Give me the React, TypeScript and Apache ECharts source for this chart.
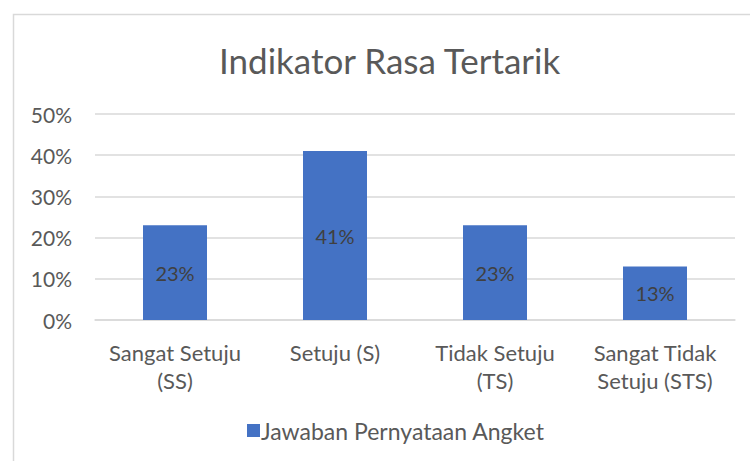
import React, { useEffect, useRef } from "react";
import * as echarts from "echarts";

const categories = ["Sangat Setuju\n(SS)", "Setuju (S)", "Tidak Setuju\n(TS)", "Sangat Tidak\nSetuju (STS)"];
const values = [23, 41, 23, 13];
const seriesName = "Jawaban Pernyataan Angket";
const titleText = "Indikator Rasa Tertarik";

const FONT = "Lato, 'Open Sans', sans-serif";

export default function App() {
  const ref = useRef<HTMLDivElement>(null);
  useEffect(() => {
    if (!ref.current) return;
    const chart = echarts.init(ref.current, undefined, { renderer: "svg" });
    chart.setOption({
      animation: false,
      backgroundColor: "#ffffff",
      textStyle: { fontFamily: FONT },
      title: {
        text: titleText,
        left: 214,
        top: 37,
        textStyle: { fontSize: 35, fontWeight: "normal", color: "#595959", fontFamily: FONT },
      },
      graphic: [
        {
          type: "rect",
          shape: { x: 13.5, y: 14.5, width: 800, height: 500 },
          style: { fill: "none", stroke: "#d9d9d9", lineWidth: 1.5 },
          silent: true,
        },
      ],
      legend: {
        bottom: 14,
        left: 242,
        itemWidth: 13,
        itemHeight: 13,
        itemGap: 10,
        icon: "rect",
        textStyle: { fontSize: 23, color: "#595959", fontFamily: FONT, padding: [0, 0, 0, -4] },
        data: [seriesName],
      },
      grid: { left: 95, right: 15, top: 114, bottom: 141 },
      xAxis: {
        type: "category",
        data: categories,
        axisLine: { show: true, lineStyle: { color: "#d9d9d9", width: 1.5 } },
        axisTick: { show: false },
        axisLabel: { fontSize: 22, color: "#595959", lineHeight: 28, margin: 18, fontFamily: FONT, interval: 0 },
      },
      yAxis: {
        type: "value",
        min: 0,
        max: 50,
        interval: 10,
        axisLine: { show: false },
        axisTick: { show: false },
        splitLine: { lineStyle: { color: "#d9d9d9", width: 1.5 } },
        axisLabel: { fontSize: 21, color: "#595959", margin: 23, formatter: "{value}%", fontFamily: FONT },
      },
      series: [
        {
          name: seriesName,
          type: "bar",
          data: values,
          barCategoryGap: "60%",
          itemStyle: { color: "#4472C4" },
          label: {
            show: true,
            position: "inside",
            formatter: "{c}%",
            fontSize: 20,
            color: "#404040",
            fontFamily: FONT,
          },
        },
      ],
    });
    return () => chart.dispose();
  }, []);
  return <div ref={ref} style={{ position: "fixed", left: 0, top: 0, width: 750, height: 461 }} />;
}
